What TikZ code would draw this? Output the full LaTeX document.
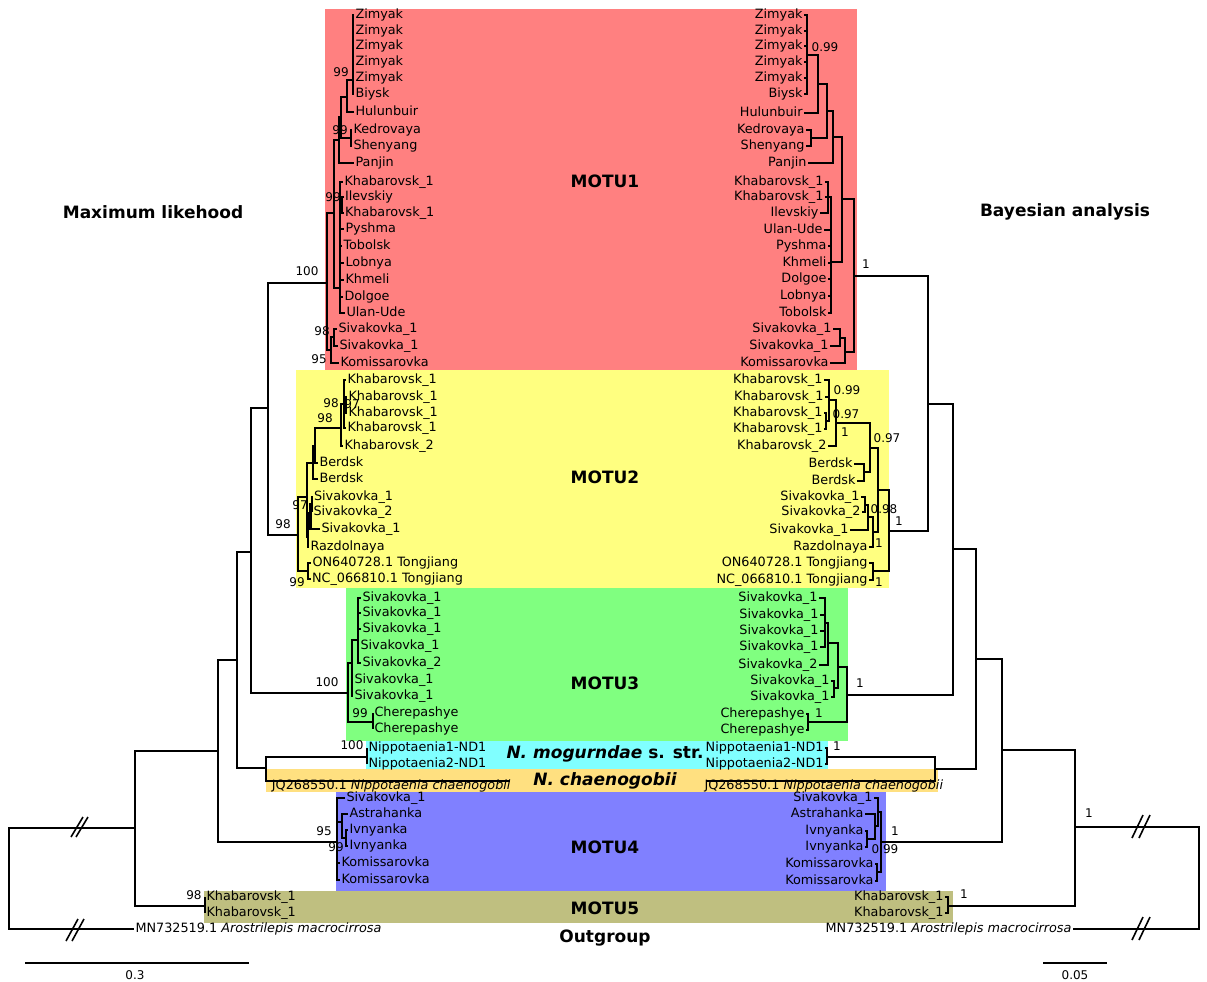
\documentclass[tikz,border=0pt]{standalone}
\usepackage{fontspec}
\setmainfont{DejaVu Sans}
\definecolor{cMa}{RGB}{255,128,128}
\definecolor{cMb}{RGB}{255,255,128}
\definecolor{cMc}{RGB}{128,255,128}
\definecolor{cNm}{RGB}{128,255,255}
\definecolor{cNc}{RGB}{255,224,128}
\definecolor{cMd}{RGB}{128,128,255}
\definecolor{cMe}{RGB}{191,191,128}
% tip labels, branches and support values
\newcommand\tipL[4]{\node[tlab] (#1) at (#2,#3) {#4};}
\newcommand\tipR[4]{\node[trab] (#1) at (#2,#3) {#4};}
\newcommand\brn[2]{\draw[br] (#1) |- (#2);}
\newcommand\bbn[2]{\draw[bb] (#1) |- (#2);}
\newcommand\supp[4]{\node[sup] (#1) at (#2,#3) {#4};}
\begin{document}
\begin{tikzpicture}[x=1pt,y=-1pt,
  br/.style={line width=2.5pt, line join=miter, line cap=butt},
  bb/.style={line width=1.9pt, line join=miter, line cap=butt},
  tlab/.style={anchor=west, inner sep=1.3pt, font=\fontsize{12.8}{15}\selectfont, text height=9.4pt, text depth=2.8pt},
  trab/.style={tlab, anchor=east},
  sup/.style={inner sep=0pt, font=\fontsize{12}{14}\selectfont},
  clade/.style={inner sep=0pt, font=\bfseries\fontsize{17}{20}\selectfont},
  ttl/.style={inner sep=0pt, font=\bfseries\fontsize{17}{20}\selectfont}]
\useasboundingbox (0,0) rectangle (1207,982);

% ---- clade bands ----
\fill[cMa] (325,9) rectangle (857,370);
\fill[cMb] (296,370) rectangle (889,588);
\fill[cMc] (346,588) rectangle (848,741);
\fill[cNm] (366,741) rectangle (828,769);
\fill[cNc] (266,769) rectangle (938,792);
\fill[cMd] (336,792) rectangle (886,891);
\fill[cMe] (204,891) rectangle (953,923);

% ---- central labels ----
\node[clade] (tM1) at (605,181) {MOTU1};
\node[clade] (tM2) at (605,477) {MOTU2};
\node[clade] (tM3) at (605,683) {MOTU3};
\node[clade] (tNm) at (605,754) {\itshape N. mogurndae\upshape{} s. str.};
\node[clade] (tNc) at (605,781) {\itshape N. chaenogobii};
\node[clade] (tM4) at (605,847) {MOTU4};
\node[clade] (tM5) at (605,908) {MOTU5};
\node[clade] (tOg) at (605,938) {Outgroup};
\node[ttl] (tML) at (153,212) {Maximum likehood};
\node[ttl] (tBA) at (1065,212) {Bayesian analysis};

% =================== left tree (maximum likelihood) ===================
\coordinate (L0) at (9,878);
\coordinate (La) at (135,828);
\coordinate (Lb) at (218,751);
\coordinate (L5) at (205,906);
\coordinate (Lc) at (237,660);
\coordinate (L4) at (337,842);
\coordinate (Ld) at (251,552);
\coordinate (Ln) at (266,768);
\coordinate (Lnp) at (367,757);
\coordinate (ajq) at (510,781);
\coordinate (Le) at (268,408);
\coordinate (L3) at (348,693);
\coordinate (L1) at (327,283);
\coordinate (L2) at (298,535);

\tipL{a1}{134}{929}{MN732519.1 \textit{Arostrilepis macrocirrosa}}
\tipL{a2}{205}{897}{Khabarovsk\_1}
\tipL{a3}{205}{913}{Khabarovsk\_1}
\tipL{a4}{367}{748}{Nippotaenia1-ND1}
\tipL{a5}{367}{764}{Nippotaenia2-ND1}
\node[tlab,anchor=east] (ajqT) at (512,786.5) {JQ268550.1 \textit{Nippotaenia chaenogobii}};

\bbn{L0}{La} \bbn{L0}{a1.west}
\bbn{La}{Lb} \bbn{La}{L5}
\brn{L5}{a2.west} \brn{L5}{a3.west}
\bbn{Lb}{Lc} \bbn{Lb}{L4}
\bbn{Lc}{Ld} \bbn{Lc}{Ln}
\bbn{Ln}{Lnp} \bbn{Ln}{ajq}
\brn{Lnp}{a4.west} \brn{Lnp}{a5.west}
\bbn{Ld}{Le} \bbn{Ld}{L3}
\bbn{Le}{L1} \bbn{Le}{L2}

% MOTU1
\coordinate (L1a) at (334,213);
\coordinate (L1s) at (331,350);
\coordinate (L1b) at (339,140);
\coordinate (L1B) at (340,288);
\coordinate (L1c) at (341,117);
\coordinate (L1d) at (347,97);
\coordinate (LKS) at (351,138);
\coordinate (LZ) at (353,80);
\coordinate (LIK) at (342,205);
\coordinate (LSS) at (334,337);
\tipL{lz1}{354}{15}{Zimyak}
\tipL{lz2}{354}{31}{Zimyak}
\tipL{lz3}{354}{46}{Zimyak}
\tipL{lz4}{354}{62}{Zimyak}
\tipL{lz5}{354}{78}{Zimyak}
\tipL{lz6}{354}{94}{Biysk}
\tipL{lhu}{354}{112}{Hulunbuir}
\tipL{lke}{352}{130}{Kedrovaya}
\tipL{lsh}{352}{146}{Shenyang}
\tipL{lpa}{354}{163}{Panjin}
\tipL{lk1}{343}{182}{Khabarovsk\_1}
\tipL{lil}{343.5}{197}{Ilevskiy}
\tipL{lk2}{343.5}{213}{Khabarovsk\_1}
\tipL{lpy}{344}{229}{Pyshma}
\tipL{ltb}{342}{246}{Tobolsk}
\tipL{llb}{344}{263}{Lobnya}
\tipL{lkh}{344}{280}{Khmeli}
\tipL{ldg}{343}{297}{Dolgoe}
\tipL{lul}{345}{313}{Ulan-Ude}
\tipL{lsv1}{337}{329}{Sivakovka\_1}
\tipL{lsv2}{338}{346}{Sivakovka\_1}
\tipL{lkm}{339}{363}{Komissarovka}
\brn{L1}{L1a} \brn{L1}{L1s}
\brn{L1a}{L1b} \brn{L1a}{L1B}
\brn{L1b}{L1c} \brn{L1b}{lpa.west}
\brn{L1c}{L1d} \brn{L1c}{LKS}
\brn{L1d}{LZ} \brn{L1d}{lhu.west}
\foreach \t in {lz1,lz2,lz3,lz4,lz5,lz6} {\brn{LZ}{\t.west}}
\brn{LKS}{lke.west} \brn{LKS}{lsh.west}
\foreach \t in {lk1,LIK,lpy,ltb,llb,lkh,ldg,lul} {\brn{L1B}{\t}}
\brn{LIK}{lil.west} \brn{LIK}{lk2.west}
\brn{L1s}{LSS} \brn{L1s}{lkm.west}
\brn{LSS}{lsv1.west} \brn{LSS}{lsv2.west}

% MOTU2
\coordinate (LC2) at (307,497);
\coordinate (LT2) at (308,571);
\coordinate (LD) at (313,463);
\coordinate (LE) at (308,537);
\coordinate (LD2) at (315,446);
\coordinate (LK) at (341,428);
\coordinate (LK4) at (344,404);
\coordinate (LKP) at (346,405);
\coordinate (LSC) at (310.5,513);
\coordinate (LSP) at (312,504);
\tipL{m1}{346}{380}{Khabarovsk\_1}
\tipL{m2}{347}{397}{Khabarovsk\_1}
\tipL{m3}{347}{413}{Khabarovsk\_1}
\tipL{m4}{346}{428}{Khabarovsk\_1}
\tipL{m5}{343}{446}{Khabarovsk\_2}
\tipL{m6}{318}{463}{Berdsk}
\tipL{m7}{318}{479}{Berdsk}
\tipL{m8}{312.5}{497}{Sivakovka\_1}
\tipL{m9}{312}{512}{Sivakovka\_2}
\tipL{m10}{320}{529}{Sivakovka\_1}
\tipL{m11}{309}{547}{Razdolnaya}
\tipL{m12}{311}{563}{ON640728.1 Tongjiang}
\tipL{m13}{310.5}{579}{NC\_066810.1 Tongjiang}
\brn{L2}{LC2} \brn{L2}{LT2}
\brn{LT2}{m12.west} \brn{LT2}{m13.west}
\brn{LC2}{LD} \brn{LC2}{LE}
\brn{LD}{LD2} \brn{LD}{m7.west}
\brn{LD2}{LK} \brn{LD2}{m6.west}
\brn{LK}{LK4} \brn{LK}{m5.west}
\brn{LK4}{m1.west} \brn{LK4}{LKP} \brn{LK4}{m4.west}
\brn{LKP}{m2.west} \brn{LKP}{m3.west}
\brn{LE}{LSC} \brn{LE}{m11.west}
\brn{LSC}{LSP} \brn{LSC}{m10.west}
\brn{LSP}{m8.west} \brn{LSP}{m9.west}

% MOTU3
\coordinate (L3a) at (352,663);
\coordinate (L3b) at (358,640);
\coordinate (LCh) at (373,722);
\tipL{g1}{361}{598}{Sivakovka\_1}
\tipL{g2}{361}{613}{Sivakovka\_1}
\tipL{g3}{361}{629}{Sivakovka\_1}
\tipL{g4}{359}{646}{Sivakovka\_1}
\tipL{g5}{361}{663}{Sivakovka\_2}
\tipL{g6}{353}{680}{Sivakovka\_1}
\tipL{g7}{353}{696}{Sivakovka\_1}
\tipL{g8}{373}{713}{Cherepashye}
\tipL{g9}{373}{729}{Cherepashye}
\brn{L3}{L3a} \brn{L3}{LCh}
\brn{L3a}{L3b} \brn{L3a}{g6.west} \brn{L3a}{g7.west}
\foreach \t in {g1,g2,g3,g4,g5} {\brn{L3b}{\t.west}}
\brn{LCh}{g8.west} \brn{LCh}{g9.west}

% MOTU4
\coordinate (L4a) at (342,822);
\coordinate (L4i) at (346,838);
\tipL{f1}{345}{798}{Sivakovka\_1}
\tipL{f2}{348}{814}{Astrahanka}
\tipL{f3}{348}{830}{Ivnyanka}
\tipL{f4}{348}{846}{Ivnyanka}
\tipL{f5}{340}{863}{Komissarovka}
\tipL{f6}{340}{880}{Komissarovka}
\brn{L4}{f1.west} \brn{L4}{L4a} \brn{L4}{f5.west} \brn{L4}{f6.west}
\brn{L4a}{f2.west} \brn{L4a}{L4i}
\brn{L4i}{f3.west} \brn{L4i}{f4.west}

% support values (bootstrap)
\supp{sa1}{341}{72}{99}
\supp{sa2}{340}{130}{99}
\supp{sa3}{333}{197}{99}
\supp{sa4}{307}{271}{100}
\supp{sa5}{322}{331}{98}
\supp{sa6}{319}{359}{95}
\supp{sa7}{331}{403}{98}
\supp{sa8}{352}{404}{97}
\supp{sa9}{325}{418}{98}
\supp{sa10}{300}{505}{97}
\supp{sa11}{283}{524}{98}
\supp{sa12}{297}{582}{99}
\supp{sa13}{327}{682}{100}
\supp{sa14}{360}{713}{99}
\supp{sa15}{352}{745}{100}
\supp{sa16}{324}{831}{95}
\supp{sa17}{336}{847}{99}
\supp{sa18}{194}{895}{98}

% broken long branches and scale bar
\draw[line width=1.6pt] (71,837) -- (83,817) (76,837) -- (88,817);
\draw[line width=1.6pt] (66,941) -- (78,919) (72,941) -- (84,919);
\draw[line width=2pt] (25,963) -- (249,963);
\node[sup] (sbL) at (135,975) {0.3};

% =================== right tree (Bayesian) ===================
\coordinate (R0) at (1199,878);
\coordinate (Ra) at (1075,827);
\coordinate (Rb) at (1002,750);
\coordinate (R5) at (948,906);
\coordinate (Rc) at (976,659);
\coordinate (R4) at (881,842);
\coordinate (Rd) at (953,549);
\coordinate (Rn) at (935,769);
\coordinate (Rnp) at (827,757);
\coordinate (bjq) at (707,781);
\coordinate (Re) at (928,404);
\coordinate (R3) at (847,695);
\coordinate (R1) at (854,276);
\coordinate (R2) at (889,531);

\tipR{b1}{1073}{929}{MN732519.1 \textit{Arostrilepis macrocirrosa}}
\tipR{b2}{945}{897}{Khabarovsk\_1}
\tipR{b3}{945}{913}{Khabarovsk\_1}
\tipR{b4}{825}{748}{Nippotaenia1-ND1}
\tipR{b5}{825}{764}{Nippotaenia2-ND1}
\node[tlab] (bjqT) at (703,786.5) {JQ268550.1 \textit{Nippotaenia chaenogobii}};

\bbn{R0}{Ra} \bbn{R0}{b1.east}
\bbn{Ra}{Rb} \bbn{Ra}{R5}
\brn{R5}{b2.east} \brn{R5}{b3.east}
\bbn{Rb}{Rc} \bbn{Rb}{R4}
\bbn{Rc}{Rd} \bbn{Rc}{Rn}
\bbn{Rn}{Rnp} \bbn{Rn}{bjq}
\brn{Rnp}{b4.east} \brn{Rnp}{b5.east}
\bbn{Rd}{Re} \bbn{Rd}{R3}
\bbn{Re}{R1} \bbn{Re}{R2}

% MOTU1
\coordinate (R1a) at (842,199);
\coordinate (RSK) at (845,352);
\coordinate (R1b) at (833,137);
\coordinate (RB) at (831,262);
\coordinate (R1c) at (827,111);
\coordinate (R1d) at (818,84);
\coordinate (RKS) at (811,138);
\coordinate (RZ) at (807,55);
\coordinate (RKI) at (828,197);
\coordinate (RSP) at (840,338);
\tipR{rz1}{804}{15}{Zimyak}
\tipR{rz2}{804}{31}{Zimyak}
\tipR{rz3}{804}{46}{Zimyak}
\tipR{rz4}{804}{62}{Zimyak}
\tipR{rz5}{804}{78}{Zimyak}
\tipR{rz6}{804}{94}{Biysk}
\tipR{rhu}{804}{113}{Hulunbuir}
\tipR{rke}{806}{130}{Kedrovaya}
\tipR{rsh}{806}{146}{Shenyang}
\tipR{rpa}{808}{163}{Panjin}
\tipR{rk1}{825}{182}{Khabarovsk\_1}
\tipR{rk2}{825}{197}{Khabarovsk\_1}
\tipR{ril}{820}{213}{Ilevskiy}
\tipR{rul}{824}{230}{Ulan-Ude}
\tipR{rpy}{828}{246}{Pyshma}
\tipR{rkh}{828}{263}{Khmeli}
\tipR{rdg}{828}{279}{Dolgoe}
\tipR{rlb}{828}{296}{Lobnya}
\tipR{rtb}{828}{313}{Tobolsk}
\tipR{rsv1}{833}{329}{Sivakovka\_1}
\tipR{rsv2}{830}{346}{Sivakovka\_1}
\tipR{rkm}{830}{363}{Komissarovka}
\brn{R1}{R1a} \brn{R1}{RSK}
\brn{R1a}{R1b} \brn{R1a}{RB}
\brn{R1b}{R1c} \brn{R1b}{rpa.east}
\brn{R1c}{R1d} \brn{R1c}{RKS}
\brn{R1d}{RZ} \brn{R1d}{rhu.east}
\foreach \t in {rz1,rz2,rz3,rz4,rz5,rz6} {\brn{RZ}{\t.east}}
\brn{RKS}{rke.east} \brn{RKS}{rsh.east}
\foreach \t in {rul,rpy,rkh,rdg,rlb,rtb} {\brn{RB}{\t.east}}
\brn{RB}{RKI}
\brn{RKI}{rk1.east} \brn{RKI}{rk2.east} \brn{RKI}{ril.east}
\brn{RSK}{RSP} \brn{RSK}{rkm.east}
\brn{RSP}{rsv1.east} \brn{RSP}{rsv2.east}

% MOTU2
\coordinate (RX) at (878,490);
\coordinate (RT) at (873,571);
\coordinate (RN) at (870,448);
\coordinate (RS2) at (873,532);
\coordinate (RKB) at (836,423);
\coordinate (RBd) at (864,472);
\coordinate (RKA) at (829,400);
\coordinate (RKP) at (826,421);
\coordinate (RS3) at (868,517);
\coordinate (RSP2) at (865,505);
\tipR{rm1}{824}{380}{Khabarovsk\_1}
\tipR{rm2}{825}{397}{Khabarovsk\_1}
\tipR{rm3}{824}{413}{Khabarovsk\_1}
\tipR{rm4}{824}{429}{Khabarovsk\_1}
\tipR{rm5}{828}{446}{Khabarovsk\_2}
\tipR{rm6}{854}{464}{Berdsk}
\tipR{rm7}{857}{481}{Berdsk}
\tipR{rm8}{861}{497}{Sivakovka\_1}
\tipR{rm9}{862}{512}{Sivakovka\_2}
\tipR{rm10}{850}{530}{Sivakovka\_1}
\tipR{rm11}{869}{547}{Razdolnaya}
\tipR{rm12}{869}{563}{ON640728.1 Tongjiang}
\tipR{rm13}{869}{580}{NC\_066810.1 Tongjiang}
\brn{R2}{RX} \brn{R2}{RT}
\brn{RT}{rm12.east} \brn{RT}{rm13.east}
\brn{RX}{RN} \brn{RX}{RS2}
\brn{RN}{RKB} \brn{RN}{RBd}
\brn{RKB}{RKA} \brn{RKB}{rm5.east}
\brn{RKA}{rm1.east} \brn{RKA}{rm2.east} \brn{RKA}{RKP}
\brn{RKP}{rm3.east} \brn{RKP}{rm4.east}
\brn{RBd}{rm6.east} \brn{RBd}{rm7.east}
\brn{RS2}{RS3} \brn{RS2}{rm11.east}
\brn{RS3}{RSP2} \brn{RS3}{rm10.east}
\brn{RSP2}{rm8.east} \brn{RSP2}{rm9.east}

% MOTU3
\coordinate (R3a) at (838,667);
\coordinate (RCh) at (808,722);
\coordinate (R3b) at (828,643);
\coordinate (RPP) at (834,688);
\coordinate (R3c) at (825,623);
\tipR{rg1}{819}{598}{Sivakovka\_1}
\tipR{rg2}{820}{615}{Sivakovka\_1}
\tipR{rg3}{820}{631}{Sivakovka\_1}
\tipR{rg4}{820}{647}{Sivakovka\_1}
\tipR{rg5}{819}{665}{Sivakovka\_2}
\tipR{rg6}{831}{681}{Sivakovka\_1}
\tipR{rg7}{831}{697}{Sivakovka\_1}
\tipR{rg8}{806}{714}{Cherepashye}
\tipR{rg9}{806}{730}{Cherepashye}
\brn{R3}{R3a} \brn{R3}{RCh}
\brn{R3a}{R3b} \brn{R3a}{RPP}
\brn{R3b}{R3c} \brn{R3b}{rg5.east}
\foreach \t in {rg1,rg2,rg3,rg4} {\brn{R3c}{\t.east}}
\brn{RPP}{rg6.east} \brn{RPP}{rg7.east}
\brn{RCh}{rg8.east} \brn{RCh}{rg9.east}

% MOTU4
\coordinate (R4a) at (878,812);
\coordinate (R4k) at (877,872);
\coordinate (R4b) at (875,826);
\coordinate (R4i) at (867,839);
\tipR{rf1}{874}{798}{Sivakovka\_1}
\tipR{rf2}{865}{814}{Astrahanka}
\tipR{rf3}{865}{831}{Ivnyanka}
\tipR{rf4}{865}{847}{Ivnyanka}
\tipR{rf5}{875}{864}{Komissarovka}
\tipR{rf6}{875}{881}{Komissarovka}
\brn{R4}{R4a} \brn{R4}{R4k}
\brn{R4a}{rf1.east} \brn{R4a}{R4b}
\brn{R4b}{rf2.east} \brn{R4b}{R4i}
\brn{R4i}{rf3.east} \brn{R4i}{rf4.east}
\brn{R4k}{rf5.east} \brn{R4k}{rf6.east}

% support values (posterior probabilities)
\supp{sb1}{825}{47}{0.99}
\supp{sb2}{866}{264}{1}
\supp{sb3}{847}{390}{0.99}
\supp{sb4}{846}{414}{0.97}
\supp{sb5}{845}{432}{1}
\supp{sb6}{887}{438}{0.97}
\supp{sb7}{884}{509}{0.98}
\supp{sb8}{899}{521}{1}
\supp{sb9}{879}{543}{1}
\supp{sb10}{879}{582}{1}
\supp{sb11}{860}{683}{1}
\supp{sb12}{819}{713}{1}
\supp{sb13}{837}{746}{1}
\supp{sb14}{895}{831}{1}
\supp{sb15}{885}{849}{0.99}
\supp{sb16}{964}{894}{1}
\supp{sb17}{1089}{813}{1}

% broken long branches and scale bar
\draw[line width=1.6pt] (1132,838) -- (1143,815) (1139,838) -- (1150,815);
\draw[line width=1.6pt] (1132,940) -- (1143,917) (1139,940) -- (1150,917);
\draw[line width=2pt] (1043,963) -- (1107,963);
\node[sup] (sbR) at (1075,975) {0.05};
\end{tikzpicture}
\end{document}
